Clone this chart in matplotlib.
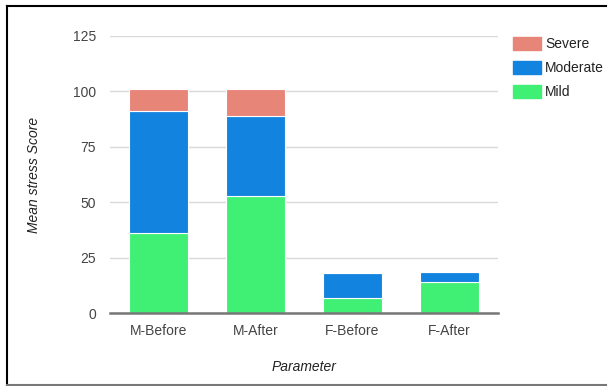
import matplotlib.pyplot as plt
import matplotlib.lines as mlines
import matplotlib.patches as mpatches

categories = ["M-Before", "M-After", "F-Before", "F-After"]
mild = [36, 53, 6.6, 14]
moderate = [55, 36, 11.3, 4.6]
severe = [10, 12, 0.7, 0]

plt.rcParams["font.family"] = ["Liberation Sans", "DejaVu Sans"]

fig = plt.figure(figsize=(6.08, 3.86), dpi=100)
ax = fig.add_axes([0.181, 0.189, 0.638, 0.718])

x = range(len(categories))
width = 0.61
bottom2 = [a + b for a, b in zip(mild, moderate)]

ax.bar(x, mild, width, color="#40F075", edgecolor="white", linewidth=0.8, zorder=3)
ax.bar(x, moderate, width, bottom=mild, color="#1283DF", edgecolor="white", linewidth=0.8, zorder=3)
ax.bar(x, severe, width, bottom=bottom2, color="#E88579", edgecolor="white", linewidth=0.8, zorder=3)

ax.set_xlim(-0.5, 3.5)
ax.set_ylim(0, 125)
ax.set_yticks([0, 25, 50, 75, 100, 125])
ax.set_xticks(list(x))
ax.set_xticklabels(categories)
ax.tick_params(axis="both", length=0, labelsize=10, colors="#444444")
ax.tick_params(axis="y", pad=10)
ax.tick_params(axis="x", pad=8)
ax.yaxis.grid(True, color="#D9D9D9", linewidth=1, zorder=0)
ax.set_axisbelow(True)
for side in ["top", "right", "left"]:
    ax.spines[side].set_visible(False)
ax.spines["bottom"].set_color("#777777")
ax.spines["bottom"].set_linewidth(1.8)
ax.spines["bottom"].set_zorder(4)

ax.set_ylabel("Mean stress Score", fontsize=10, style="italic", color="#222222", labelpad=23)
ax.set_xlabel("Parameter", fontsize=10, style="italic", color="#222222", labelpad=16)

handles = [
    mpatches.Patch(color="#E88579", label="Severe"),
    mpatches.Patch(color="#1283DF", label="Moderate"),
    mpatches.Patch(color="#40F075", label="Mild"),
]
fig.legend(handles=handles, loc="upper left", bbox_to_anchor=(0.823, 0.936),
           frameon=False, fontsize=10, handlelength=2.0, handleheight=1.0,
           labelspacing=0.72, handletextpad=0.3, labelcolor="#222222")

# frame around the picture
fig.add_artist(mlines.Line2D([7 / 608, 606 / 608], [1 - 6 / 386, 1 - 6 / 386], color="black", linewidth=1.5))
fig.add_artist(mlines.Line2D([7 / 608, 7 / 608], [1 - 6 / 386, 1 - 385 / 386], color="black", linewidth=1.5))
fig.add_artist(mlines.Line2D([7 / 608, 606 / 608], [1 - 385 / 386, 1 - 385 / 386], color="#777777", linewidth=1.5))

fig.savefig("out.png", dpi=100)
